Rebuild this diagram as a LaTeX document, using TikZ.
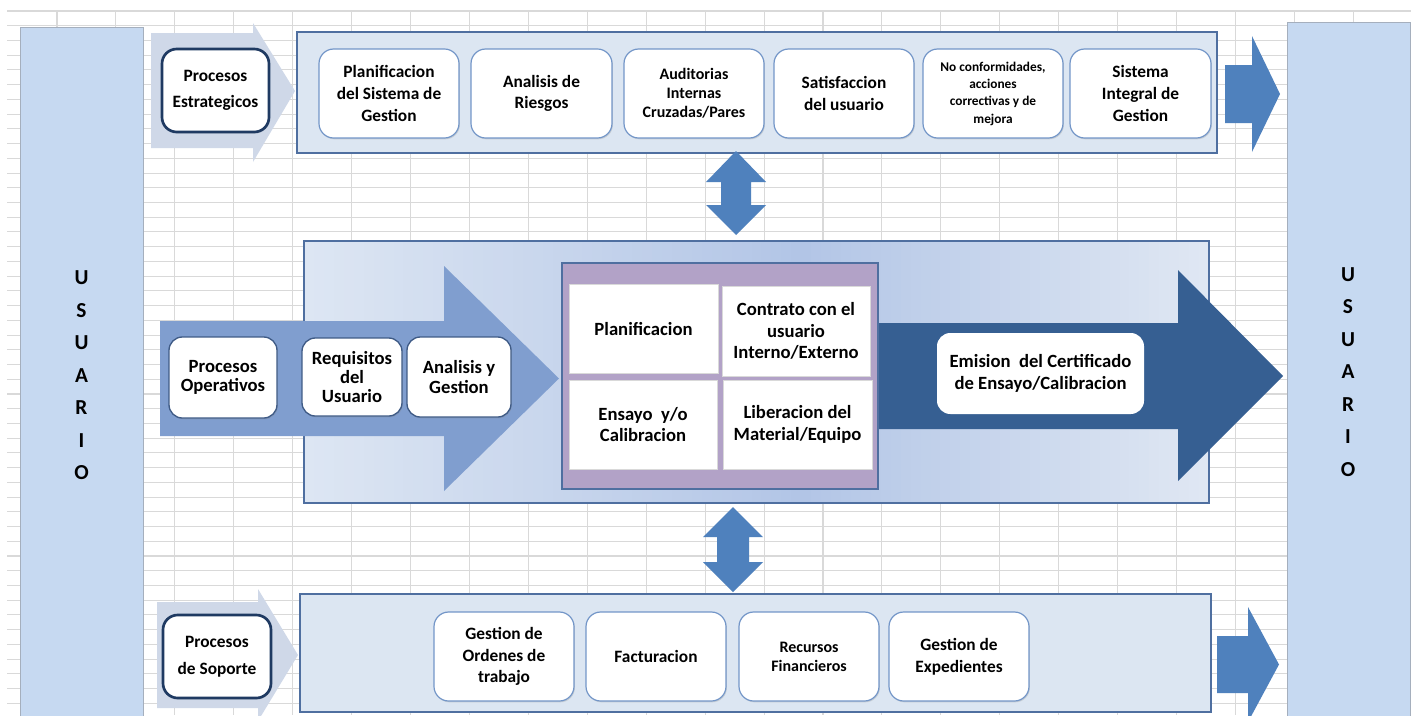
\documentclass[tikz,border=0pt]{standalone}
\usepackage{fontspec}
\setmainfont{Carlito}
\usetikzlibrary{shadows}

\definecolor{gridc}{HTML}{D9D9D9}
\definecolor{barfill}{HTML}{C6D9F1}
\definecolor{barline}{HTML}{A5AFBD}
\definecolor{panelfill}{HTML}{DCE6F2}
\definecolor{panelline}{HTML}{4F6FA0}
\definecolor{chevfill}{HTML}{CFD8E8}
\definecolor{navy}{HTML}{1F3A62}
\definecolor{boxline}{HTML}{7396C8}
\definecolor{midblue}{HTML}{4F81BD}
\definecolor{lightarrow}{HTML}{809ECF}
\definecolor{darkarrow}{HTML}{365F92}
\definecolor{purplefill}{HTML}{B2A2C7}
\definecolor{opline}{HTML}{3F5B86}
\definecolor{midL}{HTML}{DDE6F3}
\definecolor{midM}{HTML}{B2C5E6}
\definecolor{midR}{HTML}{DFE7F3}

% node from its corner coordinates: name, x1, y1, x2, y2, style, text
\newcommand\boxnode[7]{%
  \node[#6, minimum width={(#4-(#2))*0.75pt}, minimum height={(#5-(#3))*0.75pt}]
    (#1) at ({(#2+#4)/2},{(#3+#5)/2}) {#7};}

\tikzset{
  gridline/.style={gridc, line width=0.8pt},
  softshadow/.style={drop shadow={opacity=0.25, shadow xshift=0.7pt, shadow yshift=-1pt}},
  bar/.style={fill=barfill, draw=barline, line width=0.75pt, inner sep=0pt, outer sep=0pt},
  panel/.style={fill=panelfill, draw=panelline, line width=1pt, inner sep=0pt, outer sep=0pt},
  rbox/.style={fill=white, draw=boxline, line width=0.9pt, rounded corners=11pt,
    align=center, inner sep=2pt, softshadow},
  keybox/.style={fill=white, draw=navy, line width=2pt, rounded corners=11pt,
    align=center, inner sep=2pt, softshadow},
  opbox/.style={fill=white, draw=opline, line width=1pt, rounded corners=10pt,
    align=center, inner sep=2pt, softshadow},
  sqbox/.style={fill=white, draw=black!15, line width=0.5pt, align=center,
    inner sep=2pt, softshadow},
  ebox/.style={fill=white, rounded corners=10pt, align=center, inner sep=2pt},
  chev/.style={fill=chevfill},
  barrow/.style={fill=midblue},
  fN/.style={font=\bfseries\fontsize{13}{16.3}\selectfont},
  fS/.style={font=\bfseries\fontsize{13}{20}\selectfont},
  fA/.style={font=\bfseries\fontsize{12}{14.3}\selectfont},
  fNC/.style={font=\bfseries\fontsize{10}{13}\selectfont},
  fO/.style={font=\bfseries\fontsize{14}{14.6}\selectfont},
  fP/.style={font=\bfseries\fontsize{14}{16}\selectfont},
  fR/.style={font=\bfseries\fontsize{12}{14.3}\selectfont},
  fU/.style={font=\bfseries\fontsize{16}{24.4}\selectfont, align=center},
}

\begin{document}
\begin{tikzpicture}[x=0.75pt, y=-0.75pt]
\useasboundingbox (0,0) rectangle (1411,715);
\clip (0,0) rectangle (1411,715);
\fill[white] (0,0) rectangle (1411,715);

% spreadsheet grid
\foreach \k in {0,...,22} \draw[gridline] ({57+58.92*\k},11) -- ({57+58.92*\k},715);
\foreach \k in {0,...,47} \draw[gridline] (7,{11+14.73*\k}) -- (1411,{11+14.73*\k});

% user columns
\boxnode{barL}{20}{27}{143}{740}{bar}{}
\boxnode{barR}{1287}{22}{1410}{740}{bar}{}
\node[fU] (usrL) at (81.5,375.5) {U\\S\\U\\A\\R\\I\\O};
\node[fU] (usrR) at (1348,372) {U\\S\\U\\A\\R\\I\\O};

% ---------- strategic processes ----------
\fill[chev] (151,33) -- (253,33) -- (253,23) -- (295,91) -- (253,162) -- (253,148) -- (151,148) -- cycle;
\boxnode{top}{297}{32}{1217}{153}{panel}{}
\boxnode{estr}{162}{49}{269}{132}{keybox,fS}{Procesos\\Estrategicos}
\boxnode{t1}{319}{49}{459}{138}{rbox,fN}{Planificacion\\del Sistema de\\Gestion}
\boxnode{t2}{471}{49}{612}{138}{rbox,fN}{Analisis de\\Riesgos}
\boxnode{t3}{624}{49}{764}{138}{rbox,fA}{Auditorias\\Internas\\Cruzadas/Pares}
\boxnode{t4}{774}{49}{914}{138}{rbox,fN}{Satisfaccion\\del usuario}
\boxnode{t5}{923}{49}{1063}{138}{rbox,fNC}{No conformidades,\\acciones\\correctivas y de\\mejora}
\boxnode{t6}{1070}{49}{1211}{138}{rbox,fN}{Sistema\\Integral de\\Gestion}
\fill[barrow] (1225,65) -- (1252,65) -- (1252,36) -- (1280,94) -- (1252,152) -- (1252,123) -- (1225,123) -- cycle;

% link strategic <-> operative
\fill[barrow] (736,151) -- (766,182) -- (751,182) -- (751,205) -- (766,205) -- (736,235)
  -- (706,205) -- (721,205) -- (721,182) -- (706,182) -- cycle;

% ---------- operative processes ----------
% panel background: light at the sides, deeper blue towards the middle
\foreach \i in {0,...,90} {
  \pgfmathsetmacro\xa{304+9.9451*\i}
  \pgfmathsetmacro\xb{min(304+9.9451*(\i+1)+0.8,1209)}
  \pgfmathsetmacro\pa{min(100,100*(\i/90)/0.55)}
  \pgfmathsetmacro\pb{max(0,100*((\i/90)-0.55)/0.45)}
  \fill[midR!\pb!midM!\pa!midL] (\xa,241) rectangle (\xb,503);
}
\boxnode{mid}{304}{241}{1209}{503}{panel, fill=none}{}
\fill[lightarrow] (160,321) -- (444,321) -- (444,266) -- (559,378.5) -- (444,491) -- (444,436) -- (160,436) -- cycle;
\boxnode{oper}{169}{337}{277}{418}{opbox,fO}{Procesos\\Operativos}
\boxnode{req}{302}{338}{402}{416}{opbox,fO}{Requisitos\\del\\Usuario}
\boxnode{ana}{407}{337}{511}{417}{opbox,fO}{Analisis y\\Gestion}

\fill[darkarrow] (870,323) -- (1178,323) -- (1178,270) -- (1283,376) -- (1178,481) -- (1178,429) -- (870,429) -- cycle;
\boxnode{core}{562}{263}{878}{489}{panel, fill=purplefill}{}
\boxnode{c1}{569}{284}{718}{373}{sqbox,fP}{Planificacion}
\boxnode{c2}{722}{286}{870}{376}{sqbox,fP}{Contrato con el\\usuario\\Interno/Externo}
\boxnode{c3}{569}{380}{717}{469}{sqbox,fP}{Ensayo~ y/o\\Calibracion}
\boxnode{c4}{723}{380}{872}{469}{sqbox,fP}{Liberacion del\\Material/Equipo}
\boxnode{emi}{937}{333}{1144}{414}{ebox,fP}{Emision~ del Certificado\\de Ensayo/Calibracion}

% link operative <-> support
\fill[barrow] (733,507) -- (763,537) -- (749,537) -- (749,562) -- (763,562) -- (733,592)
  -- (703,562) -- (717,562) -- (717,537) -- (703,537) -- cycle;

% ---------- support processes ----------
\fill[chev] (157,602) -- (258,602) -- (258,589) -- (298,655) -- (258,721) -- (258,708) -- (157,708) -- cycle;
\boxnode{bot}{300}{594}{1211}{712}{panel}{}
\boxnode{sop}{163}{615}{271}{698}{keybox,fS}{Procesos\\de Soporte}
\boxnode{b1}{434}{612}{574}{701}{rbox,fN}{Gestion de\\Ordenes de\\trabajo}
\boxnode{b2}{586}{612}{726}{701}{rbox,fN}{Facturacion}
\boxnode{b3}{739}{612}{879}{701}{rbox,fR}{Recursos\\Financieros}
\boxnode{b4}{889}{612}{1029}{701}{rbox,fN}{Gestion de\\Expedientes}
\fill[barrow] (1217,636) -- (1248,636) -- (1248,607) -- (1279,664.5) -- (1248,722) -- (1248,693) -- (1217,693) -- cycle;
\end{tikzpicture}
\end{document}
